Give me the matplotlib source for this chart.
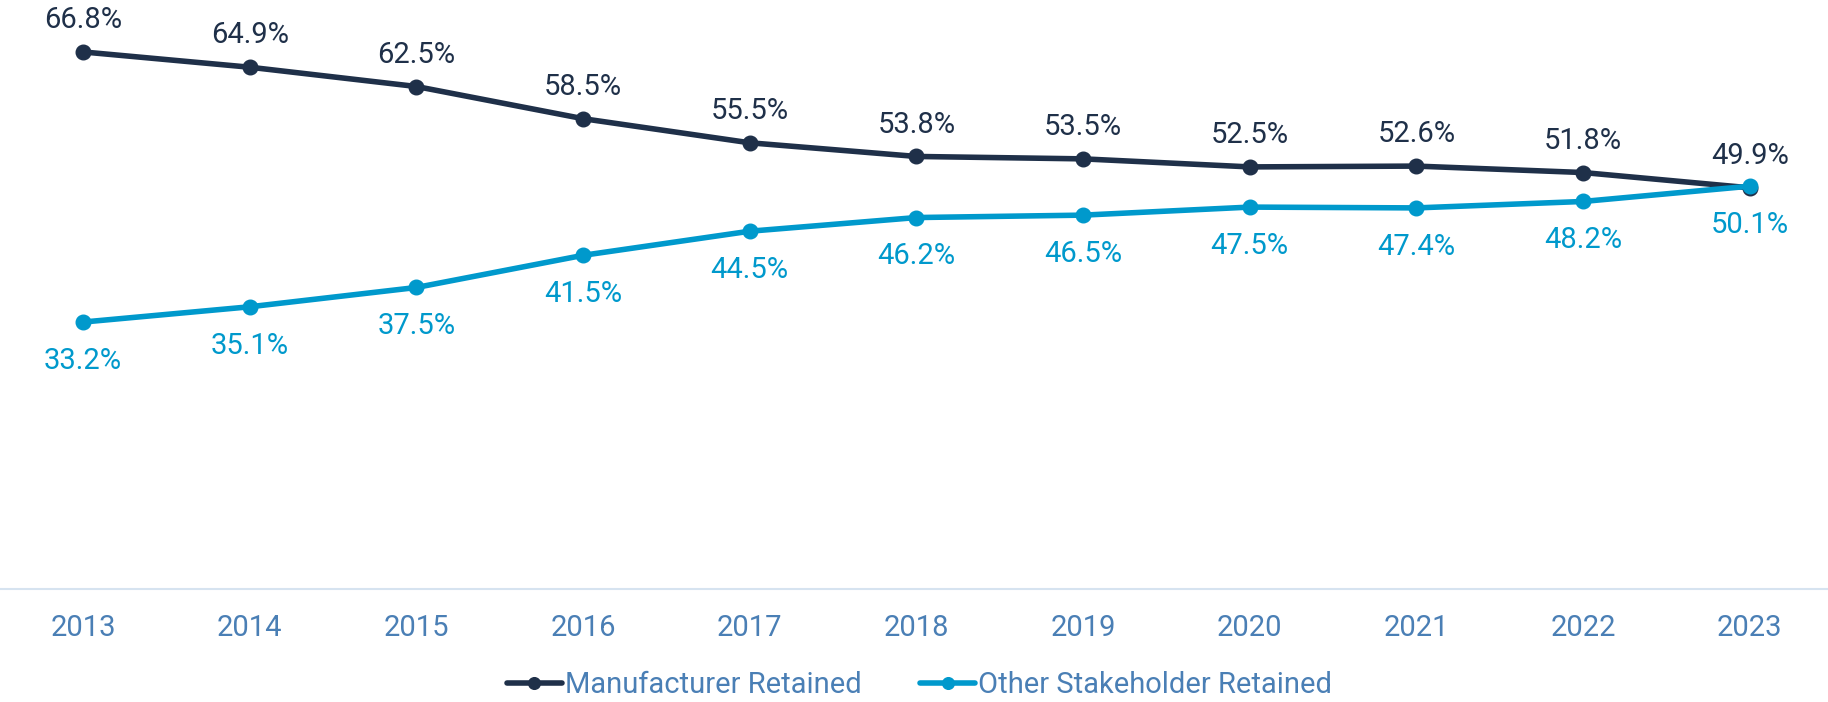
import matplotlib
matplotlib.use("Agg")
import matplotlib.pyplot as plt

years = ["2013", "2014", "2015", "2016", "2017", "2018", "2019", "2020", "2021", "2022", "2023"]
manufacturer = [66.8, 64.9, 62.5, 58.5, 55.5, 53.8, 53.5, 52.5, 52.6, 51.8, 49.9]
other = [33.2, 35.1, 37.5, 41.5, 44.5, 46.2, 46.5, 47.5, 47.4, 48.2, 50.1]

NAVY = "#1f3049"
BLUE = "#0099cc"
TICK = "#4a7fb5"

plt.rcParams['font.family'] = ['Roboto', 'DejaVu Sans']

fig = plt.figure(figsize=(18.28, 7.02), dpi=100)
ax = fig.add_axes([0, 0.161, 1, 0.839])

x = list(range(len(years)))
ax.plot(x, manufacturer, color=NAVY, lw=4, marker='o', ms=10.5,
        label="Manufacturer Retained", zorder=3, solid_capstyle='round')
ax.plot(x, other, color=BLUE, lw=4, marker='o', ms=10.5,
        label="Other Stakeholder Retained", zorder=4, solid_capstyle='round')

# value labels: above for manufacturer, below for the other series
for i in x:
    ax.annotate(f"{manufacturer[i]:.1f}%", (i, manufacturer[i]),
                xytext=(0, 23), textcoords='offset points',
                ha='center', va='center', fontsize=21, color=NAVY)
    ax.annotate(f"{other[i]:.1f}%", (i, other[i]),
                xytext=(0, -28), textcoords='offset points',
                ha='center', va='center', fontsize=21, color=BLUE)

ax.set_xlim(-0.498, 10.47)
ax.set_ylim(0, 73.26)
ax.set_xticks(x)
ax.set_xticklabels(years, fontsize=21, color=TICK)
ax.tick_params(axis='x', length=0, pad=18)
ax.set_yticks([])
for s in ['top', 'left', 'right']:
    ax.spines[s].set_visible(False)
ax.spines['bottom'].set_color("#d6e3f0")
ax.spines['bottom'].set_linewidth(1.5)

leg = fig.legend(loc='center', bbox_to_anchor=(0.503, 0.024), ncol=2,
                 frameon=False, fontsize=21, handlelength=1.9,
                 handletextpad=0.1, columnspacing=2.0, markerscale=0.8)
for t in leg.get_texts():
    t.set_color(TICK)

fig.savefig("out.png", dpi=100)
